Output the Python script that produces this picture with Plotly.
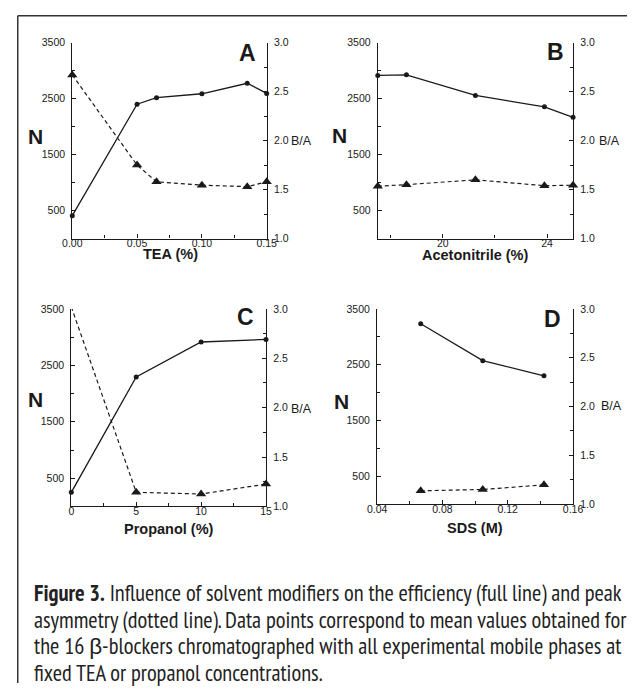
import plotly.graph_objects as go

W, H = 637, 689

# ---------------- data ----------------
tea_x = [0.0, 0.05, 0.065, 0.10, 0.135, 0.15]
tea_N = [410, 2400, 2517, 2587, 2774, 2593]
tea_BA = [2.67, 1.75, 1.58, 1.545, 1.53, 1.58]

acn_x = [17.5, 18.6, 21.25, 23.9, 25.0]
acn_N = [2915, 2926, 2558, 2353, 2166]
acn_BA = [1.535, 1.55, 1.60, 1.54, 1.545]

prop_x = [0, 5, 10, 15]
prop_N = [250, 2293, 2914, 2960]
prop_BA = [3.02, 1.143, 1.126, 1.226]

sds_x = [0.0667, 0.1047, 0.1422]
sds_N = [3235, 2571, 2300]
sds_BA = [1.134, 1.148, 1.195]

N_ticks = [500, 1500, 2500, 3500]
N_minor = [1000, 2000, 3000]
BA_ticks = [1.0, 1.5, 2.0, 2.5, 3.0]
BA_minor = [1.25, 1.75, 2.25, 2.75]

panels = [
    dict(letter="A", xtitle="TEA (%)", x=tea_x, N=tea_N, BA=tea_BA,
         xrange=[0, 0.15], xticks=[0.0, 0.05, 0.10, 0.15], xfmt=".2f",
         xminor=[0.025, 0.075, 0.125]),
    dict(letter="B", xtitle="Acetonitrile (%)", x=acn_x, N=acn_N, BA=acn_BA,
         xrange=[17.5, 25], xticks=[20, 24], xfmt="d", xminor=[18, 22]),
    dict(letter="C", xtitle="Propanol (%)", x=prop_x, N=prop_N, BA=prop_BA,
         xrange=[0, 15], xticks=[0, 5, 10, 15], xfmt="d", xminor=[2.5, 7.5, 12.5]),
    dict(letter="D", xtitle="SDS (M)", x=sds_x, N=sds_N, BA=sds_BA,
         xrange=[0.04, 0.16], xticks=[0.04, 0.08, 0.12, 0.16], xfmt=".2f",
         xminor=[0.06, 0.10, 0.14]),
]

# pixel boxes of the plot areas: (left, right, top, bottom)
boxes = [
    (64.3, 265.0, 37.3, 236.7),
    (379.7, 581.3, 37.3, 236.7),
    (63.3, 264.3, 308.3, 509.3),
    (379.0, 581.3, 308.3, 506.7),
]

def px(x):
    return x / W

def py(y):
    return 1 - y / H

INK = "#1a1a1a"
FONT = "Liberation Sans, Arial, sans-serif"

fig = go.Figure()
layout = dict(
    width=W, height=H,
    margin=dict(l=0, r=0, t=0, b=0),
    paper_bgcolor="white", plot_bgcolor="rgba(0,0,0,0)",
    showlegend=False,
    font=dict(family=FONT, color=INK, size=10.5),
)
annotations = []

for i, (p, b) in enumerate(zip(panels, boxes)):
    k = i + 1
    xa = "x" if k == 1 else f"x{k}"
    yl_id = 2 * i + 1
    yr_id = 2 * i + 2
    yl = "y" if yl_id == 1 else f"y{yl_id}"
    yr = f"y{yr_id}"
    L, R, T, B = b
    xdom = [px(L), px(R)]
    ydom = [py(B), py(T)]

    fig.add_trace(go.Scatter(
        x=p["x"], y=p["N"], xaxis=xa, yaxis=yl, mode="lines+markers",
        line=dict(color=INK, width=1.3),
        marker=dict(symbol="circle", size=5, color=INK),
        cliponaxis=False))
    fig.add_trace(go.Scatter(
        x=p["x"], y=p["BA"], xaxis=xa, yaxis=yr, mode="lines+markers",
        line=dict(color=INK, width=1.2, dash="4px,3px"),
        marker=dict(symbol="triangle-up", size=9, color=INK),
        cliponaxis=False))

    common = dict(showline=True, linecolor=INK, linewidth=1.2, showgrid=False,
                  zeroline=False, ticks="inside", ticklen=4, tickwidth=1,
                  tickcolor=INK, tickfont=dict(family=FONT, size=10.5, color=INK))
    layout["xaxis" if k == 1 else f"xaxis{k}"] = dict(
        domain=xdom, anchor=yl, range=p["xrange"], tickmode="array",
        tickvals=p["xticks"], tickformat=p["xfmt"],
        minor=dict(tickmode="array", tickvals=p["xminor"], ticks="inside",
                   ticklen=3, tickcolor=INK, tickwidth=1),
        ticklabelstandoff=-5, **common)
    layout["yaxis" if yl_id == 1 else f"yaxis{yl_id}"] = dict(
        domain=ydom, anchor=xa, range=[0, 3500], tickmode="array",
        tickvals=N_ticks, side="left",
        minor=dict(tickmode="array", tickvals=N_minor, ticks="inside",
                   ticklen=3, tickcolor=INK, tickwidth=1),
        ticklabelstandoff=4, **common)
    layout[f"yaxis{yr_id}"] = dict(
        domain=ydom, anchor=xa, overlaying=yl, side="right", range=[1, 3],
        tickmode="array", tickvals=BA_ticks, tickformat=".1f",
        minor=dict(tickmode="array", tickvals=BA_minor, ticks="inside",
                   ticklen=3, tickcolor=INK, tickwidth=1),
        ticklabelstandoff=4, **common)

# text positions (pixel centres)
letters = [(245, 47.5), (563, 46.5), (243, 316.7), (560.5, 318.5)]
n_pos = [(26, 132.5), (340.5, 132), (26, 400.8), (342, 403)]
ba_pos = [(301, 137.3), (619, 137), (301, 410), (621, 406.7)]
xt_pos = [(166, 252.5), (481, 253.5), (164, 532), (480, 531)]

for p, lp, npos, bpos, xpos in zip(panels, letters, n_pos, ba_pos, xt_pos):
    annotations.append(dict(text=p["letter"], x=px(lp[0]), y=py(lp[1]), xref="paper",
                            yref="paper", showarrow=False, xanchor="center", yanchor="middle",
                            font=dict(family=FONT, size=23, color=INK, weight="bold")))
    annotations.append(dict(text="N", x=px(npos[0]), y=py(npos[1]), xref="paper",
                            yref="paper", showarrow=False, xanchor="center", yanchor="middle",
                            font=dict(family=FONT, size=21, color=INK, weight="bold")))
    annotations.append(dict(text="B/A", x=px(bpos[0]), y=py(bpos[1]), xref="paper",
                            yref="paper", showarrow=False, xanchor="center", yanchor="middle",
                            font=dict(family=FONT, size=12.5, color=INK)))
    annotations.append(dict(text=p["xtitle"], x=px(xpos[0]), y=py(xpos[1]), xref="paper",
                            yref="paper", showarrow=False, xanchor="center", yanchor="middle",
                            font=dict(family=FONT, size=14.5, color=INK, weight="bold")))

# caption
CAP_FONT = "PT Sans Narrow, Archivo Narrow, Asap Condensed, Barlow Condensed, sans-serif"
caption_lines = [
    "<b>Figure 3.</b> Influence of solvent modifiers on the efficiency (full line) and peak",
    "asymmetry (dotted line). Data points correspond to mean values obtained for",
    "the 16 β-blockers chromatographed with all experimental mobile phases at",
    "fixed TEA or propanol concentrations.",
]
cap_y = [597, 624, 651, 678]
for line, cy in zip(caption_lines, cap_y):
    annotations.append(dict(text=line, x=px(23), y=py(cy), xref="paper", yref="paper",
                            showarrow=False, xanchor="left", yanchor="middle",
                            font=dict(family=CAP_FONT, size=22.5, color="#222")))

layout["annotations"] = annotations
layout["shapes"] = [
    dict(type="line", xref="paper", yref="paper", x0=px(8), x1=1, y0=py(10), y1=py(10),
         line=dict(color="#333", width=1.5)),
    dict(type="line", xref="paper", yref="paper", x0=px(8), x1=px(8), y0=py(10), y1=0,
         line=dict(color="#333", width=1.5)),
]
fig.update_layout(**layout)
fig.write_html("out.html")
